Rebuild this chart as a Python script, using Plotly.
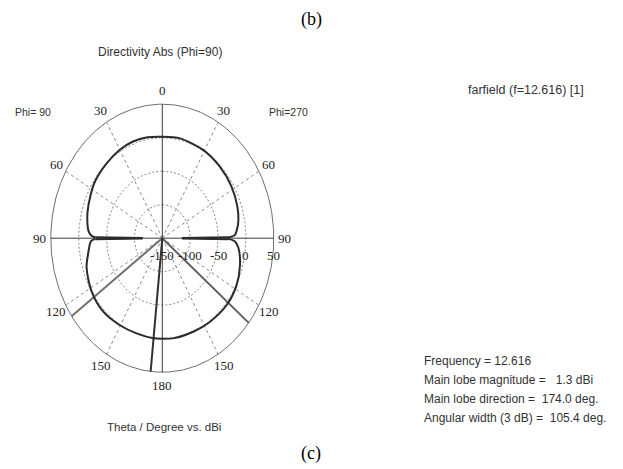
import numpy as np
import plotly.graph_objects as go

# ---------------- data ----------------
R_MIN, R_MAX = -150, 50
radial_ticks = [-150, -100, -50, 0, 50]
grid_rings = [-100, -50, 0]
angle_ticks = [0, 30, 60, 90, 120, 150, 180]
spoke_angles = [30, 60, 120, 150]

# Phi=90 side (left half), theta in degrees, directivity in dBi
theta_left_upper = [0, 10, 20, 30, 42, 55, 64, 74, 80, 85, 88, 89.5]
dbi_left_upper = [1.5, 3.0, 3.6, 2.4, -0.2, -2.6, -6.4, -10.4, -13.5, -16.8, -22, -30]
theta_left_lower = [90.5, 92, 99, 108, 122, 136, 150, 162, 174, 180]
dbi_left_lower = [-30, -22, -15.7, -7.2, -0.4, 2.4, 0.4, -0.6, 0.2, 0.0]

# Phi=270 side (right half)
theta_right_upper = [0, 12, 29, 44, 58, 71, 79, 84, 88, 89.5]
dbi_right_upper = [1.5, 2.3, 0.8, -1.4, -3.8, -7.4, -11, -15, -20, -32]
theta_right_lower = [90.5, 92, 96, 106, 118, 131, 146, 158, 172, 180]
dbi_right_lower = [-32, -20, -12.8, -5, 0.6, 2.6, 1.2, 0.2, 0.6, 0.0]

# deep null at theta = 90 on both sides
null_theta = 90
null_dbi = -115

# main lobe / 3 dB markers: side -1 = Phi=90 (left), +1 = Phi=270 (right)
main_lobe_theta, main_lobe_side = 174.0, -1
width_left_theta, width_right_theta = 125.6, 129.2

info_lines = ["Frequency = 12.616",
              "Main lobe magnitude =   1.3 dBi",
              "Main lobe direction =  174.0 deg.",
              "Angular width (3 dB) =  105.4 deg."]

# ---------------- helpers ----------------
def to_xy(theta_deg, dbi, side):
    r = (np.asarray(dbi, dtype=float) - R_MIN) / (R_MAX - R_MIN)
    a = np.radians(np.asarray(theta_deg, dtype=float)) * side
    return r * np.sin(a), r * np.cos(a)

OFF = 8                      # page body margin of the browser
W, H = 623 - OFF, 469 - OFF  # figure size
CX, CY = 162.3 - OFF, 238.2 - OFF   # centre of polar plot in figure px
RX, RY = 111.5, 134.0               # half-axes of the (stretched) polar ellipse
x_range = [-CX / RX, (W - CX) / RX]
y_range = [-(H - CY) / RY, CY / RY]

fig = go.Figure()

grid_col = "#8a8a8a"
full = np.linspace(0, 360, 361)

# dotted rings
for g in grid_rings:
    x, y = to_xy(full, [g] * len(full), 1)
    fig.add_trace(go.Scatter(x=x, y=y, mode="lines", hoverinfo="skip",
                             line=dict(color=grid_col, width=1, dash="2px,2px")))
# outer ring
x, y = to_xy(full, [R_MAX] * len(full), 1)
fig.add_trace(go.Scatter(x=x, y=y, mode="lines", hoverinfo="skip",
                         line=dict(color="#6e6e6e", width=1)))
# dashed spokes
for s in (-1, 1):
    for a in spoke_angles:
        x, y = to_xy([a, a], [R_MIN, R_MAX], s)
        fig.add_trace(go.Scatter(x=x, y=y, mode="lines", hoverinfo="skip",
                                 line=dict(color=grid_col, width=1, dash="3px,3px")))
# main axes (0-180 and 90-90)
x, y = to_xy([0, 180], [R_MAX, R_MAX], 1)
fig.add_trace(go.Scatter(x=[x[0], x[1]], y=[y[0], y[1]], mode="lines", hoverinfo="skip",
                         line=dict(color="#3c3c3c", width=1)))
xl, yl = to_xy([90], [R_MAX], -1)
xr, yr = to_xy([90], [R_MAX], 1)
fig.add_trace(go.Scatter(x=[xl[0], xr[0]], y=[yl[0], yr[0]], mode="lines", hoverinfo="skip",
                         line=dict(color="#3c3c3c", width=1)))

# 3 dB width lines and main lobe line
for th, s, col in [(width_left_theta, -1, "#707070"), (width_right_theta, 1, "#606060"),
                   (main_lobe_theta, main_lobe_side, "#303030")]:
    x, y = to_xy([th, th], [R_MIN, R_MAX], s)
    fig.add_trace(go.Scatter(x=x, y=y, mode="lines", hoverinfo="skip",
                             line=dict(color=col, width=2)))

# directivity curve
curve_col = "#2b2b2b"
xlu, ylu = to_xy(theta_left_upper, dbi_left_upper, -1)
xru, yru = to_xy(theta_right_upper, dbi_right_upper, 1)
fig.add_trace(go.Scatter(x=np.concatenate([xlu[::-1], xru[1:]]),
                         y=np.concatenate([ylu[::-1], yru[1:]]),
                         mode="lines", line=dict(color=curve_col, width=2, shape="spline", smoothing=0.8),
                         hoverinfo="skip"))
xll, yll = to_xy(theta_left_lower, dbi_left_lower, -1)
xrl, yrl = to_xy(theta_right_lower, dbi_right_lower, 1)
fig.add_trace(go.Scatter(x=np.concatenate([xll, xrl[::-1][1:]]),
                         y=np.concatenate([yll, yrl[::-1][1:]]),
                         mode="lines", line=dict(color=curve_col, width=2, shape="spline", smoothing=0.8),
                         hoverinfo="skip"))
# null spikes at theta = 90
for s, up, lo in [(-1, dbi_left_upper[-1], dbi_left_lower[0]),
                  (1, dbi_right_upper[-1], dbi_right_lower[0])]:
    tu = theta_left_upper[-1] if s < 0 else theta_right_upper[-1]
    tl = theta_left_lower[0] if s < 0 else theta_right_lower[0]
    x, y = to_xy([tu, null_theta, tl], [up, null_dbi, lo], s)
    fig.add_trace(go.Scatter(x=x, y=y, mode="lines", hoverinfo="skip",
                             line=dict(color=curve_col, width=2.5)))

# ---------------- labels ----------------
serif = "Liberation Serif, Times New Roman, serif"
sans = "Liberation Sans, Arial, sans-serif"
ann = []
for a in angle_ticks:
    sides = (1,) if a in (0, 180) else (-1, 1)
    for s in sides:
        r = 1.1
        ann.append(dict(x=r * np.sin(np.radians(a)) * s, y=r * np.cos(np.radians(a)),
                        xref="x", yref="y", text=str(a), showarrow=False,
                        font=dict(family=serif, size=13, color="#222")))
for t in radial_ticks:
    rr = (t - R_MIN) / (R_MAX - R_MIN)
    ann.append(dict(x=rr, y=-17 / RY, xref="x", yref="y", text=str(t), showarrow=False,
                    font=dict(family=serif, size=13, color="#222")))

def ptxt(px, py, text, size, family=sans, color="#333", xanchor="center"):
    # px, py are positions in the reference picture (page) pixels
    ann.append(dict(x=(px - OFF) / W, y=1 - (py - OFF) / H, xref="paper", yref="paper", text=text,
                    showarrow=False, xanchor=xanchor, yanchor="middle",
                    font=dict(family=family, size=size, color=color)))

ptxt(311, 20, "(b)", 18, serif, "#000")
ptxt(311, 453, "(c)", 18, serif, "#000")
ptxt(160, 52, "Directivity Abs (Phi=90)", 12)
ptxt(33, 112, "Phi= 90", 10.5)
ptxt(288, 112, "Phi=270", 10.5)
ptxt(526, 90, "farfield (f=12.616) [1]", 12.5)
ptxt(164, 427, "Theta / Degree vs. dBi", 11.5)
for i, line in enumerate(info_lines):
    ptxt(422, 361 + i * 19, line.replace(" ", "&nbsp;"), 12, xanchor="left")

fig.update_layout(
    width=W, height=H, margin=dict(l=0, r=0, t=0, b=0, pad=0),
    paper_bgcolor="white", plot_bgcolor="white", showlegend=False,
    xaxis=dict(range=x_range, visible=False, fixedrange=True),
    yaxis=dict(range=y_range, visible=False, fixedrange=True),
    annotations=ann,
)
fig.write_html("out.html")
